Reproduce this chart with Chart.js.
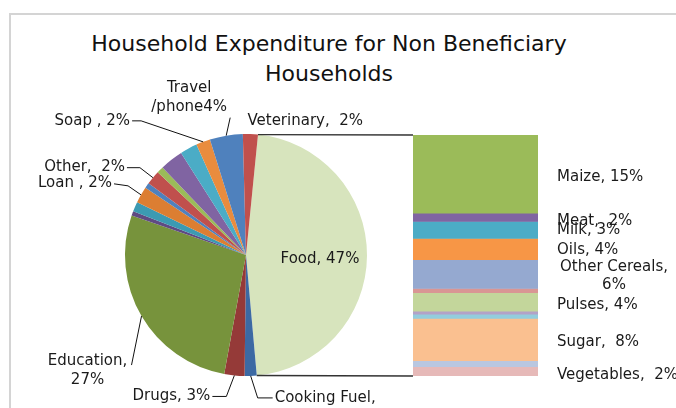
<!DOCTYPE html>
<html>
<head>
<meta charset="utf-8">
<script src="https://cdn.jsdelivr.net/npm/chart.js@4.4.0/dist/chart.umd.min.js"></script>
<style>
  body { margin: 0; background: #fff; }
  #wrap { position: relative; width: 676px; height: 408px; overflow: hidden; }
  #frame { position: absolute; left: 9px; top: 13px; width: 720px; height: 440px;
           border-left: 2px solid #D4D4D4; border-top: 2px solid #D4D4D4; }
  canvas { position: absolute; left: 0; top: 0; }
  #title { position: absolute; left: 0; top: 29px; width: 658px; text-align: center;
           font: 22px 'DejaVu Sans'; line-height: 30px; color: #111; }
</style>
</head>
<body>
<div id="wrap">
  <div id="frame"></div>
  <div id="title">Household Expenditure for Non Beneficiary<br>Households</div>
  <canvas id="pieChart" width="676" height="408"></canvas>
  <canvas id="barChart" width="676" height="408"></canvas>
</div>
<script>
// pie slices, clockwise from the top (unnamed ones have no label in the source)
const pieLabels = ['Food', 'Cooking Fuel', 'Drugs', 'Education', '', '', 'Loan ', '', 'Other', '', '', '', 'Soap ', 'Travel /phone', 'Veterinary'];
const pieValues = [47, 1.6, 2.7, 27.4, 0.6, 1.3, 2.2, 0.7, 1.9, 0.9, 3.1, 2.3, 1.9, 4.4, 2.0];
const pieColors = ['#D7E4BD', '#3C69A3', '#953A38', '#77933C', '#5F4A82', '#3C9AB2', '#DC7E32',
                   '#4F81BD', '#C0504D', '#9BBB59', '#8064A2', '#4BACC6', '#E98C3E', '#4F81BD', '#C0504D'];

// the Food slice split out in the bar, top to bottom
const foodLabels = ['Maize', 'Meat', 'Milk', 'Oils', 'Other Cereals', '', 'Pulses', '', '', 'Sugar', '', 'Vegetables'];
const foodValues = [15.2, 1.6, 3.3, 4.1, 5.6, 0.8, 3.6, 0.6, 0.8, 8.2, 1.2, 1.8];
const foodColors = ['#9BBB59', '#8064A2', '#4BACC6', '#F79646', '#95A9D0', '#D99694', '#C3D69B',
                    '#B3A2C7', '#93CDDD', '#FAC090', '#B9C7E0', '#E6B9B8'];

const FONT = '15px "DejaVu Sans"';
const TEXT = '#1a1a1a';

// label placement: offsets from the slice's outer mid point, leader points the same way
const pieSpots = [
  { i: 0, fmt: (n, p) => n + ', ' + p + '%', dx: -47, dy: 3, align: 'center' },
  { i: 1, fmt: (n, p) => n + ',\n' + p + '%', dx: 24, dy: 22, align: 'left', lead: [[22, 22], [7, 22]] },
  { i: 2, fmt: (n, p) => n + ', ' + p + '%', dx: -24, dy: 21, align: 'right', lead: [[-22, 21], [-8, 21]] },
  { i: 3, fmt: (n, p) => n + ',\n' + p + '%', dx: -54, dy: 45, align: 'center', lead: [[-10, 49]] },
  { i: 6, fmt: (n, p) => n + ', ' + p + '%', dx: -29, dy: -12, align: 'right', lead: [[-27, -11], [-13, -9]] },
  { i: 8, fmt: (n, p) => n + ',  ' + p + '%', dx: -28, dy: -11, align: 'right', lead: [[-26, -10], [-13, -10]] },
  { i: 12, fmt: (n, p) => n + ', ' + p + '%', dx: -73, dy: -21, align: 'right', lead: [[-71, -21], [-62, -21]] },
  { i: 13, fmt: (n, p) => n.replace(' ', '\n') + p + '%', dx: -37, dy: -48, align: 'center', lead: [[4, -18]] },
  { i: 14, fmt: (n, p) => n + ',  ' + p + '%', dx: -3, dy: -13, align: 'left' }
];

const barSpots = [
  { i: 0, fmt: (n, p) => n + ', ' + p + '%', dy: 3 },
  { i: 1, fmt: (n, p) => n + ',  ' + p + '%', dy: 4 },
  { i: 2, fmt: (n, p) => n + ', ' + p + '%', dy: 0 },
  { i: 3, fmt: (n, p) => n + ', ' + p + '%', dy: 1 },
  { i: 4, fmt: (n, p) => n + ',\n' + p + '%', dy: -7, center: true },
  { i: 6, fmt: (n, p) => n + ', ' + p + '%', dy: 3 },
  { i: 9, fmt: (n, p) => n + ',  ' + p + '%', dy: 3 },
  { i: 11, fmt: (n, p) => n + ',  ' + p + '%', dy: 4 }
];

function drawLines(ctx, text, x, y, align, lh) {
  ctx.textAlign = align;
  text.split('\n').forEach((line, k) => ctx.fillText(line, x, y + k * lh));
}

const pieTotal = pieValues.reduce((a, b) => a + b, 0);

const pieLabelPlugin = {
  id: 'pieLabelPlugin',
  afterDraw(chart) {
    const ctx = chart.ctx;
    const arcs = chart.getDatasetMeta(0).data;
    ctx.save();
    ctx.font = FONT;
    ctx.fillStyle = TEXT;
    ctx.textBaseline = 'middle';
    ctx.strokeStyle = '#111';
    ctx.lineWidth = 1;
    pieSpots.forEach(s => {
      const a = arcs[s.i];
      const mid = (a.startAngle + a.endAngle) / 2;
      const rx = a.x + a.outerRadius * Math.cos(mid);
      const ry = a.y + a.outerRadius * Math.sin(mid);
      const p = Math.round(pieValues[s.i] / pieTotal * 100);
      drawLines(ctx, s.fmt(pieLabels[s.i], p), rx + s.dx, ry + s.dy, s.align, 19);
      if (s.lead) {
        ctx.beginPath();
        ctx.moveTo(rx + s.lead[0][0], ry + s.lead[0][1]);
        s.lead.slice(1).forEach(q => ctx.lineTo(rx + q[0], ry + q[1]));
        ctx.lineTo(rx, ry);
        ctx.stroke();
      }
    });
    ctx.restore();
  }
};

const pieChart = new Chart(document.getElementById('pieChart'), {
  type: 'pie',
  data: {
    labels: pieLabels,
    datasets: [{ data: pieValues, backgroundColor: pieColors, borderWidth: 0 }]
  },
  options: {
    responsive: false,
    animation: false,
    rotation: 5.7,
    layout: { padding: { left: 125, right: 309, top: 134, bottom: 32 } },
    plugins: { legend: { display: false }, tooltip: { enabled: false } }
  },
  plugins: [pieLabelPlugin]
});

const foodTotal = foodValues.reduce((a, b) => a + b, 0);

const barLabelPlugin = {
  id: 'barLabelPlugin',
  afterDraw(chart) {
    const ctx = chart.ctx;
    ctx.save();
    // connector lines from the Food slice to the bar
    const food = pieChart.getDatasetMeta(0).data[0];
    const yScale = chart.scales.y;
    const first = chart.getDatasetMeta(0).data[0];
    const barLeft = first.x - first.width / 2;
    const barRight = first.x + first.width / 2;
    const yTop = yScale.getPixelForValue(0);
    const yBot = yScale.getPixelForValue(foodTotal);
    ctx.strokeStyle = '#333';
    ctx.lineWidth = 1.3;
    ctx.beginPath();
    ctx.moveTo(food.x + food.outerRadius * Math.cos(food.startAngle), food.y + food.outerRadius * Math.sin(food.startAngle));
    ctx.lineTo(barLeft, yTop);
    ctx.moveTo(food.x + food.outerRadius * Math.cos(food.endAngle), food.y + food.outerRadius * Math.sin(food.endAngle));
    ctx.lineTo(barLeft, yBot);
    ctx.stroke();

    ctx.font = FONT;
    ctx.fillStyle = TEXT;
    ctx.textBaseline = 'middle';
    barSpots.forEach(s => {
      const el = chart.getDatasetMeta(s.i).data[0];
      const cy = (el.y + el.base) / 2 + s.dy;
      const txt = s.fmt(foodLabels[s.i], Math.round(foodValues[s.i]));
      if (s.center) drawLines(ctx, txt, barRight + 76, cy, 'center', 18);
      else drawLines(ctx, txt, barRight + 19, cy, 'left', 18);
    });
    ctx.restore();
  }
};

new Chart(document.getElementById('barChart'), {
  type: 'bar',
  data: {
    labels: ['Food'],
    datasets: foodValues.map((v, i) => ({
      label: foodLabels[i],
      data: [v],
      backgroundColor: foodColors[i],
      borderWidth: 0,
      barPercentage: 1,
      categoryPercentage: 1
    }))
  },
  options: {
    responsive: false,
    animation: false,
    layout: { padding: { left: 413, right: 138, top: 135, bottom: 32 } },
    scales: {
      x: { display: false, stacked: true },
      y: { display: false, stacked: true, min: 0, max: foodTotal, reverse: true }
    },
    plugins: { legend: { display: false }, tooltip: { enabled: false } }
  },
  plugins: [barLabelPlugin]
});
</script>
</body>
</html>
